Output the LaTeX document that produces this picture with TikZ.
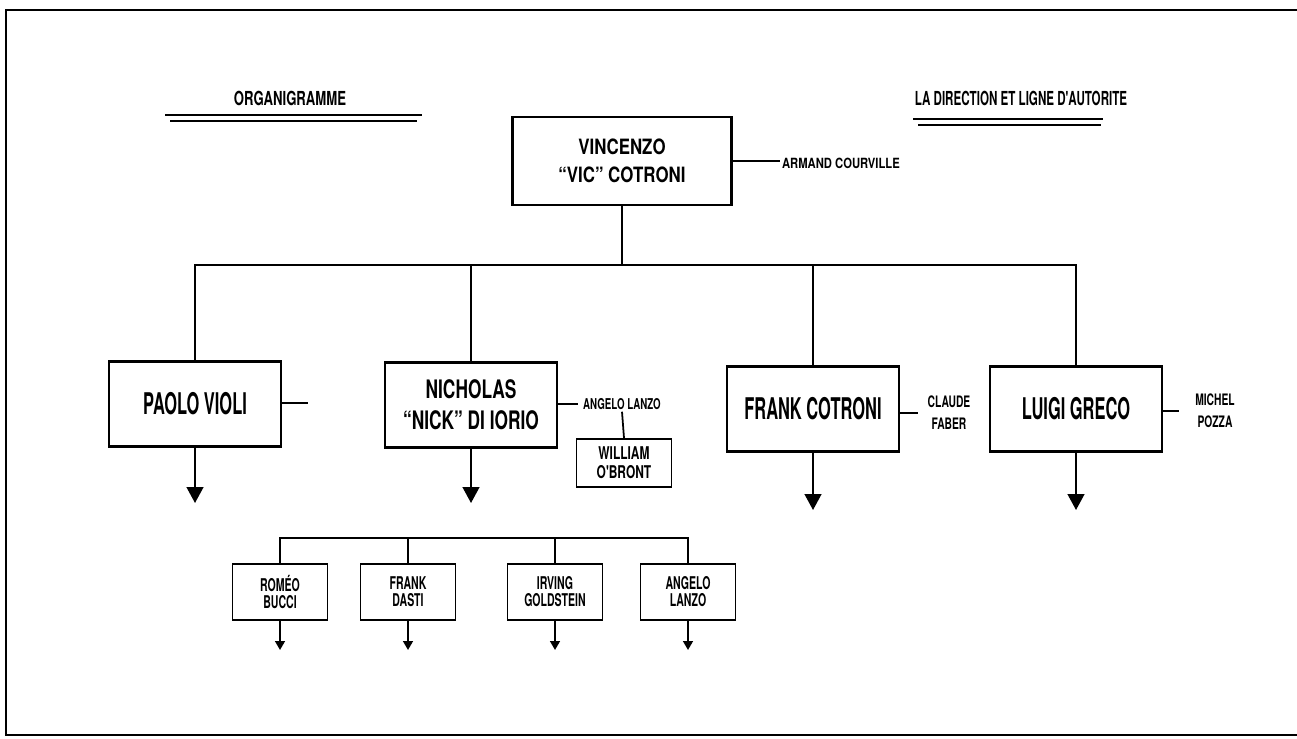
\documentclass[tikz,border=0pt]{standalone}
\usepackage{fontspec}
\newfontfamily\condfont{TeX Gyre Heros}[FakeStretch=0.55]
\newfontfamily\midfont{TeX Gyre Heros}[FakeStretch=0.68]
\newfontfamily\widefont{TeX Gyre Heros}[FakeStretch=0.8]
\newfontfamily\smallfont{TeX Gyre Heros}[FakeStretch=0.6]
\newfontfamily\notefont{TeX Gyre Heros}[FakeStretch=0.65]
\usepackage{tikz}
\usetikzlibrary{arrows.meta}
\tikzset{bigbox/.style={draw,line width=1.2pt,align=center,inner sep=0pt,
           minimum width=3.43cm,minimum height=1.7cm,
           font=\condfont\bfseries\fontsize{17}{20}\selectfont},
         smallbox/.style={draw,line width=1.1pt,align=center,inner sep=0pt,
           minimum width=1.9cm,minimum height=1.12cm,
           font=\smallfont\bfseries\fontsize{10}{9.7}\selectfont},
         note/.style={align=center,inner sep=1pt,
           font=\notefont\bfseries\fontsize{9}{12.5}\selectfont},
         sidenote/.style={note,inner xsep=#1},
         sidenote/.default=1pt,
         link/.style={line width=1pt},
         down/.style={link,-{Triangle[width=9.5pt,length=9pt]}},
         smalldown/.style={link,-{Triangle[width=5.5pt,length=5pt]}}}

\begin{document}
\begin{tikzpicture}[x=0.02cm,y=-0.02cm]
\useasboundingbox (0,0) rectangle (1297,739);
\draw[line width=1.2pt] (1297,10) -- (6,10) -- (6,735) -- (1297,735);

%% titles
\node[inner sep=1pt,font=\midfont\bfseries\fontsize{11}{13}\selectfont] (orga) at (290,98) {ORGANIGRAMME};
\draw[line width=0.7pt] (165,115) -- (422,115);
\draw[line width=1.3pt] (170,121) -- (417,121);
\node[inner sep=1pt,font=\smallfont\bfseries\fontsize{11}{13}\selectfont] (ligne) at (1021,98) {LA DIRECTION ET LIGNE D'AUTORITE};
\draw[line width=0.7pt] (913,119) -- (1103,119);
\draw[line width=1.3pt] (918,125) -- (1101,125);

%% boss
\node[bigbox,minimum width=4.38cm,minimum height=1.76cm,
      font=\widefont\bfseries\fontsize{12}{16.2}\selectfont] (vic) at (622,161) {VINCENZO\\“VIC” COTRONI};
\node[note,anchor=west,font=\widefont\bfseries\fontsize{8}{10}\selectfont] (armand) at (780,163) {ARMAND COURVILLE};
\draw[link] (vic.east) -- (vic.east -| armand.west);

%% first level
\node[bigbox] (paolo) at (195,404) {PAOLO VIOLI};
\node[bigbox,font=\midfont\bfseries\fontsize{14.5}{17.6}\selectfont] (nick) at (471,405) {NICHOLAS\\“NICK” DI IORIO};
\node[bigbox] (frank) at (813,409) {FRANK COTRONI};
\node[bigbox] (luigi) at (1076,409) {LUIGI GRECO};

\coordinate (bus) at (622,265);
\draw[link] (vic.south) -- (bus);
\draw[link] (paolo.north) |- (bus) -| (luigi.north);
\foreach \n in {nick,frank} {\draw[link] (\n.north) -- (\n.north |- bus);}

%% side names
\coordinate (paolo-stub) at (308,403);
\draw[link] (paolo.east |- paolo-stub) -- (paolo-stub);
\node[note,font=\notefont\bfseries\fontsize{8.5}{10}\selectfont,inner xsep=3pt] (angelo) at (622,404) {ANGELO LANZO};
\draw[link] (nick.east |- angelo.west) -- (angelo.west);
\node[smallbox,minimum width=1.9cm,minimum height=0.96cm,
      font=\midfont\bfseries\fontsize{10}{10.8}\selectfont] (william) at (624,463) {WILLIAM\\O'BRONT};
\draw[link] (angelo.south) -- (william.north);
\node[sidenote=5.5pt] (claude) at (949,413) {CLAUDE\\FABER};
\draw[link] (frank.east |- claude.west) -- (claude.west);
\node[sidenote=9pt] (michel) at (1215,411) {MICHEL\\POZZA};
\draw[link] (luigi.east |- michel.west) -- (michel.west);

\foreach \n/\y in {paolo/503,nick/503,frank/510,luigi/510} {
  \coordinate (\n-tip) at (\n.south |- 0,\y);
  \draw[down] (\n.south) -- (\n-tip);}

%% second level
\node[smallbox] (romeo) at (280,592) {ROMÉO\\BUCCI};
\node[smallbox] (dasti) at (408,592) {FRANK\\DASTI};
\node[smallbox] (irving) at (555,592) {IRVING\\GOLDSTEIN};
\node[smallbox] (lanzo) at (688,592) {ANGELO\\LANZO};

\coordinate (subbus) at (480,538);
\draw[link] (romeo.north) |- (subbus) -| (lanzo.north);
\foreach \n in {dasti,irving} {\draw[link] (\n.north) -- (\n.north |- subbus);}
\foreach \n in {romeo,dasti,irving,lanzo} {
  \coordinate (\n-tip) at (\n.south |- 0,650);
  \draw[smalldown] (\n.south) -- (\n-tip);}
\end{tikzpicture}
\end{document}
